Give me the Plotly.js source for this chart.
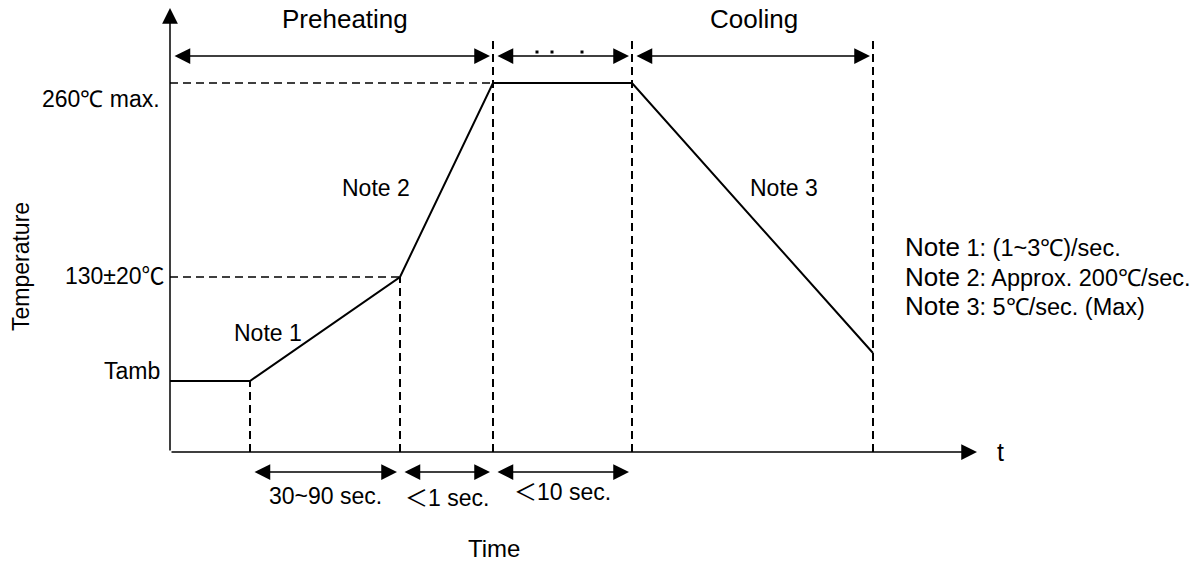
<!DOCTYPE html>
<html>
<head>
<meta charset="utf-8">
<script src="https://cdn.plot.ly/plotly-3.0.1.min.js"></script>
<style>html,body{margin:0;padding:0;background:#fff}#chart{width:1202px;height:562px}</style>
</head>
<body>
<div id="chart"></div>
<script>
// Schematic reflow profile (arbitrary units: time along x, temperature along y)
const profileTime = [0, 80, 230, 323, 462, 703];
const profileTemp = [71, 71, 175, 369, 369, 99];
const phaseBounds = [0, 80, 230, 323, 462, 703];   // vertical reference times
const levelNames = ["Tamb", "130±20℃", "260℃ max."];
const levelTemps = [71, 175, 369];
const topPhases = ["Preheating", "", "Cooling"];
const topSpans = [[0, 323], [323, 462], [462, 703]];
const bottomLabels = ["30~90 sec.", "＜1 sec.", "＜10 sec."];
const bottomSpans = [[80, 230], [230, 323], [323, 462]];
const noteNames = ["Note 2", "Note 1", "Note 3"];
const notePos = [[206, 264], [98, 119], [614, 264]];
const legendNotes = ["(1~3℃)/sec.", "Approx. 200℃/sec.", "5℃/sec. (Max)"];
const dotTimes = [367, 382, 412];

const axisTop = 444, axisRight = 807, dashTop = 412, topRow = 396, bottomRow = -20;
const FONT = "Liberation Sans, Arial, sans-serif";
const CJK = "Noto Sans CJK JP";

function cjkify(s) {
  return s.replace(/([＜℃])/g, '<span style="font-family:' + CJK + '">$1</span>');
}

const traces = [];
// profile
traces.push({x: profileTime, y: profileTemp, mode: 'lines', line: {color: '#000', width: 2}, hoverinfo: 'skip'});
// vertical dashed lines
[[1, profileTemp[1]], [2, profileTemp[2]], [3, dashTop], [4, dashTop], [5, dashTop]].forEach(([i, top]) => {
  traces.push({x: [phaseBounds[i], phaseBounds[i]], y: [0, top], mode: 'lines', line: {color: '#000', width: 2, dash: '8px,5px'}, hoverinfo: 'skip'});
});
// horizontal dashed lines
traces.push({x: [0, profileTime[3]], y: [levelTemps[2], levelTemps[2]], mode: 'lines', line: {color: '#000', width: 1.6, dash: '8px,5px'}, hoverinfo: 'skip'});
traces.push({x: [0, profileTime[2]], y: [levelTemps[1], levelTemps[1]], mode: 'lines', line: {color: '#000', width: 1.6, dash: '8px,5px'}, hoverinfo: 'skip'});
// small dots on middle arrow
traces.push({x: dotTimes, y: dotTimes.map(() => topRow + 4), mode: 'markers', marker: {color: '#000', size: 3, symbol: 'square'}, hoverinfo: 'skip'});

const ann = [];
// axes with arrows
ann.push({x: 0, y: axisTop, ax: 0, ay: 0, xref: 'x', yref: 'y', axref: 'x', ayref: 'y', text: '', showarrow: true, arrowhead: 2, arrowsize: 2.1, arrowwidth: 1.5, arrowcolor: '#000'});
ann.push({x: axisRight, y: 0, ax: 0, ay: 0, xref: 'x', yref: 'y', axref: 'x', ayref: 'y', text: '', showarrow: true, arrowhead: 2, arrowsize: 2.1, arrowwidth: 1.5, arrowcolor: '#000'});
ann.push({x: axisRight + 18, y: 0, xref: 'x', yref: 'y', text: 't', showarrow: false, xanchor: 'left', yanchor: 'middle', font: {family: FONT, size: 25, color: '#000'}});
// double arrows
function dbl(a, b, y) {
  ann.push({x: b, y: y, ax: a, ay: y, xref: 'x', yref: 'y', axref: 'x', ayref: 'y', text: '', showarrow: true, arrowhead: 2, startarrowhead: 2, arrowside: 'end+start', arrowsize: 2.1, startarrowsize: 2.1, arrowwidth: 1.5, arrowcolor: '#000', standoff: 3, startstandoff: 3});
}
topSpans.forEach(s => dbl(s[0], s[1], topRow));
bottomSpans.forEach(s => dbl(s[0], s[1], bottomRow));
// phase titles
ann.push({x: 175, y: 433, xref: 'x', yref: 'y', text: topPhases[0], showarrow: false, font: {family: FONT, size: 26, color: '#000'}});
ann.push({x: 584, y: 433, xref: 'x', yref: 'y', text: topPhases[2], showarrow: false, font: {family: FONT, size: 26, color: '#000'}});
// bottom labels
const bottomLift = [-44, -44, -38];
bottomLabels.forEach((t, i) => {
  const c = (bottomSpans[i][0] + bottomSpans[i][1]) / 2;
  ann.push({x: c, y: bottomLift[i], xref: 'x', yref: 'y', text: cjkify(t), showarrow: false, font: {family: FONT, size: 23, color: '#000'}});
});
// level labels
const levelRight = [-8, -3, -8];
const levelShift = [10, 3, -16];
levelNames.forEach((t, i) => {
  const txt = i === 1 ? cjkify(t) : t;
  ann.push({x: levelRight[i], y: levelTemps[i] + levelShift[i], xref: 'x', yref: 'y', text: txt, showarrow: false, xanchor: 'right', yanchor: 'middle', font: {family: FONT, size: 23, color: '#000'}});
});
// note labels on the curve
noteNames.forEach((t, i) => {
  ann.push({x: notePos[i][0], y: notePos[i][1], xref: 'x', yref: 'y', text: t, showarrow: false, font: {family: FONT, size: 23, color: '#000'}});
});
// notes legend
legendNotes.forEach((t, i) => {
  ann.push({x: 733, y: 205 - i * 29.5, xref: 'x', yref: 'y', text: '<span style="font-size:26px">Note</span> ' + (i + 1) + ': ' + t, showarrow: false, xanchor: 'left', font: {family: FONT, size: 23.5, color: '#000'}});
});
// axis titles
ann.push({x: -149, y: 185, xref: 'x', yref: 'y', text: 'Temperature', textangle: -90, showarrow: false, font: {family: FONT, size: 23, color: '#000'}});
ann.push({x: 324, y: -96, xref: 'x', yref: 'y', text: 'Time', showarrow: false, font: {family: FONT, size: 24, color: '#000'}});

const layout = {
  width: 1202, height: 562,
  margin: {l: 0, r: 0, t: 0, b: 0},
  paper_bgcolor: '#fff', plot_bgcolor: '#fff',
  showlegend: false,
  xaxis: {range: [-170, 1032], visible: false, fixedrange: true},
  yaxis: {range: [-110, 452], visible: false, fixedrange: true},
  annotations: ann
};
Plotly.newPlot('chart', traces, layout, {displayModeBar: false, staticPlot: true});
</script>
</body>
</html>
